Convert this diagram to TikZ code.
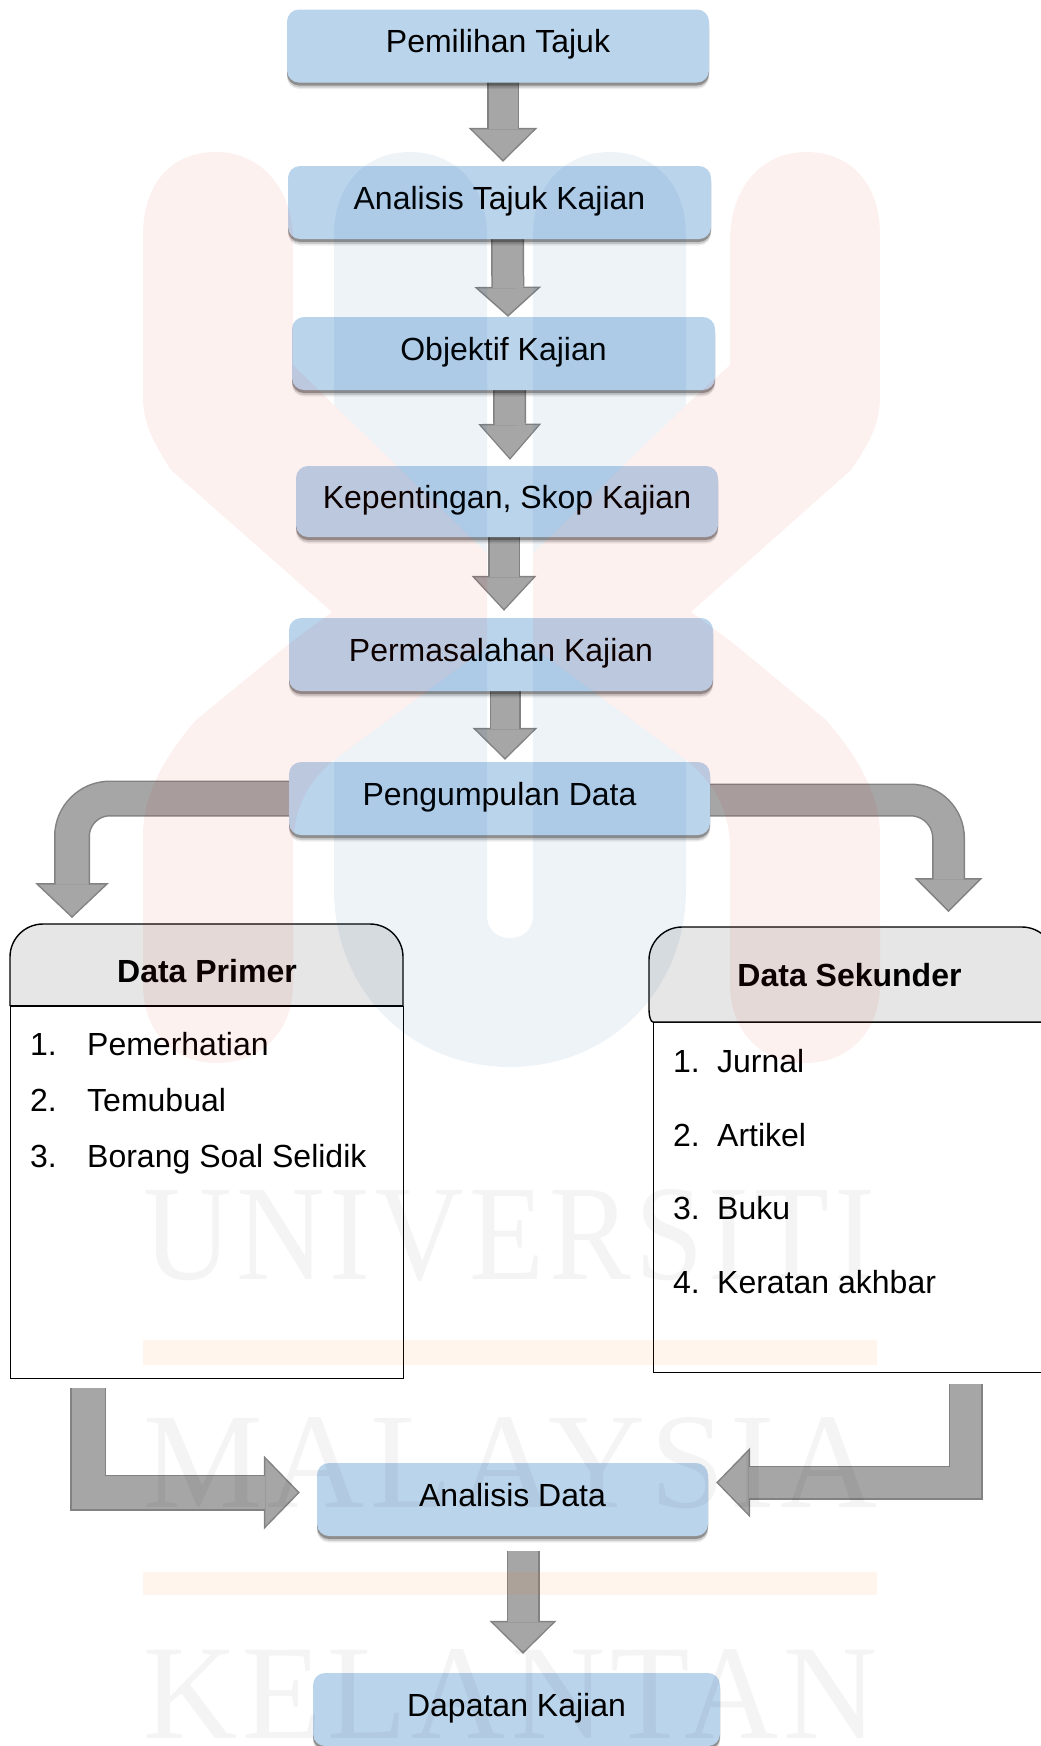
\documentclass[tikz,border=0pt]{standalone}
\usepackage{fontspec}
\setmainfont{Liberation Sans}
\newfontfamily\wmfont[LetterSpace=4]{Liberation Serif}
\usetikzlibrary{arrows.meta,calc,shadows,backgrounds}
\definecolor{boxblue}{HTML}{BAD4EC}
\definecolor{arrowfill}{HTML}{A6A6A6}
\definecolor{arrowedge}{HTML}{828282}
\definecolor{headgrey}{HTML}{E6E6E6}
\definecolor{wmred}{rgb}{0.89,0.04,0}
\definecolor{wmblue}{rgb}{0,0.30,0.60}
\definecolor{wmorange}{rgb}{1,0.47,0}
\tikzset{
  x=1pt,y=-1pt,
  flowbox/.style={rectangle,rounded corners=12pt,fill=boxblue,
    minimum width=#1,minimum height=73pt,inner sep=0pt,
    text height=24pt,text depth=11pt,font=\fontsize{32}{36}\selectfont,
    general shadow={shadow xshift=0pt,shadow yshift=-6.5pt,opacity=.07,fill=black},
    general shadow={shadow xshift=0pt,shadow yshift=-5pt,opacity=.14,fill=black},
    general shadow={shadow xshift=0pt,shadow yshift=-3pt,opacity=.30,fill=black}},
  blockarrow/.code n args={3}{%
    \pgfmathsetmacro\arrowinnerW{#1-3}%
    \pgfmathsetmacro\arrowinnerL{#2-3.6}%
    \pgfmathsetmacro\arrowinnerH{#3*(#2-3.6)/#2}%
    \tikzset{draw=arrowfill,line width=\arrowinnerW pt,line join=miter,shorten >=2.1pt,
      preaction={draw=arrowedge,line width=#1,shorten >=0pt,
        -{Triangle[length=#2,width=#3,line width=0pt,round=false]}},
      -{Triangle[length=\arrowinnerL pt,width=\arrowinnerH pt,line width=0pt,round=false]}}},
  panelbody/.style={rectangle,draw=black,line width=1.4pt,inner sep=0pt,anchor=north west},
  panelhead/.style={draw=black,line width=1.4pt,fill=headgrey},
  paneltitle/.style={anchor=base,inner sep=0pt,font=\fontsize{32}{36}\selectfont\bfseries},
  listitem/.style={anchor=base west,inner sep=0pt,font=\fontsize{32}{36}\selectfont},
  wmword/.style={anchor=south west,inner sep=0pt,text=black,text opacity=.045}
}
\newcommand{\listline}[3]{\makebox[#1][l]{#2}#3}
\begin{document}
\begin{tikzpicture}
\useasboundingbox (0,0) rectangle (1041,1746);
% flow boxes
\node[flowbox=422pt] (n1) at (498,46) {Pemilihan Tajuk};
\node[flowbox=423pt] (n2) at (499.5,202.5) {Analisis Tajuk Kajian};
\node[flowbox=423pt] (n3) at (503.5,353.5) {Objektif Kajian};
\node[flowbox=422pt,minimum height=71pt] (n4) at (507,501.5) {Kepentingan, Skop Kajian};
\node[flowbox=424pt] (n5) at (501,654.5) {Permasalahan Kajian};
\node[flowbox=421pt] (n6) at (499.5,798.5) {Pengumpulan Data};
\node[flowbox=391pt] (n7) at (512.5,1499.5) {Analisis Data};
\node[flowbox=407pt] (n8) at (516.5,1709.5) {Dapatan Kajian};
% panels
\node[panelbody,minimum width=393pt,minimum height=372pt] (primerbody) at (10,1006) {};
\draw[panelhead,rounded corners=33pt] (10,1006) -- (10,924) -- (403,924) -- (403,1006);
\draw[panelhead] (10,1006) -- (403,1006);
\node[paneltitle] (primerhead) at (207,982) {Data Primer};
\node[panelbody,minimum width=402pt,minimum height=350pt] (sekunderbody) at (653,1022) {};
\draw[panelhead] (1055,1022) -- (1055,960) .. controls (1055,942) and (1040,927) .. (1022,927)
  -- (682,927) .. controls (664,927) and (649,942) .. (649,960) -- (649,1010)
  .. controls (649,1017) and (651,1022) .. (653,1022) -- cycle;
\node[paneltitle] (sekunderhead) at (849.5,986) {Data Sekunder};
% list texts
\node[listitem] (p1) at (30,1055) {\listline{57pt}{1.}{Pemerhatian}};
\node[listitem] (p2) at (30,1111) {\listline{57pt}{2.}{Temubual}};
\node[listitem] (p3) at (30,1167) {\listline{57pt}{3.}{Borang Soal Selidik}};
\node[listitem] (s1) at (673,1072) {\listline{44pt}{1.}{Jurnal}};
\node[listitem] (s2) at (673,1146) {\listline{44pt}{2.}{Artikel}};
\node[listitem] (s3) at (673,1219) {\listline{44pt}{3.}{Buku}};
\node[listitem] (s4) at (673,1293) {\listline{44pt}{4.}{Keratan akhbar}};
% block arrows, behind the boxes
\begin{scope}[on background layer]
\draw[blockarrow={32pt}{34pt}{69pt}] ($(n1.south)+(5,-2)$) -- ($(n2.north)+(3.5,-4)$);
\draw[blockarrow={33pt}{30pt}{67pt}] ($(n2.south)+(8,-2)$) -- ($(n3.north)+(4.5,0)$);
\draw[blockarrow={33pt}{36pt}{63pt}] ($(n3.south)+(6,-2)$) -- ($(n4.north)+(3,-6)$);
\draw[blockarrow={32pt}{35pt}{65pt}] ($(n4.south)+(-3,-2)$) -- ($(n5.north)+(3,-7)$);
\draw[blockarrow={31pt}{32pt}{65pt}] ($(n5.south)+(4,-2)$) -- ($(n6.north)+(5.5,-2)$);
\draw[blockarrow={36pt}{35pt}{74pt},rounded corners=38pt] (n6.west) -| ($(primerbody.north west)+(62,-88)$);
\draw[blockarrow={33pt}{34pt}{68pt},rounded corners=38pt] ($(n6.east)+(0,1.5)$) -| ($(sekunderbody.north west)+(295.5,-110)$);
\draw[blockarrow={36pt}{36pt}{74pt}] ($(primerbody.south west)+(78,9)$) |- ($(n7.west)+(-17,-7)$);
\draw[blockarrow={34pt}{34pt}{70pt}] ($(sekunderbody.south west)+(312.5,11)$) |- ($(n7.east)+(8,-17)$);
\draw[blockarrow={33pt}{33pt}{67pt}] ($(n7.south)+(10.5,15)$) -- ($(n8.north)+(6.5,-19)$);
\end{scope}
% watermark, a faint layer over the whole page
\fill[wmblue,opacity=.067] (334,235) .. controls (334,185) and (365,152) .. (410,152)
  .. controls (455,152) and (487,185) .. (487,235) -- (487,553) -- (334,405) -- cycle;
\fill[wmblue,opacity=.067] (533,235) .. controls (533,185) and (565,152) .. (610,152)
  .. controls (655,152) and (686,185) .. (686,235) -- (686,405) -- (533,553) -- cycle;
\fill[wmblue,opacity=.067] (487,647) -- (487,915)
  .. controls (487,930) and (497,938) .. (510,938) .. controls (523,938) and (533,930) .. (533,915)
  -- (533,647) -- (686,760) -- (686,890)
  .. controls (686,990) and (610,1067) .. (510,1067) .. controls (410,1067) and (334,990) .. (334,890)
  -- (334,760) -- cycle;
\fill[wmred,opacity=.06] (143,235) .. controls (143,185) and (170,152) .. (216,152)
  .. controls (262,152) and (293,190) .. (293,240) -- (293,365) -- (334,405)
  -- (487,553) -- (487,647) -- (334,760) .. controls (310,780) and (293,805) .. (293,850) -- (293,985)
  .. controls (293,1030) and (262,1063) .. (217,1063) .. controls (172,1063) and (143,1030) .. (143,985)
  -- (143,835) .. controls (143,790) and (170,750) .. (196,720) -- (290,643) -- (332,612)
  -- (171,470) .. controls (155,445) and (143,425) .. (143,397) -- cycle;
\fill[wmred,opacity=.06] (880,235) .. controls (880,185) and (852,152) .. (806,152)
  .. controls (760,152) and (730,190) .. (730,240) -- (730,365) -- (686,405)
  -- (533,553) -- (533,647) -- (686,760) .. controls (710,780) and (730,805) .. (730,850) -- (730,985)
  .. controls (730,1030) and (760,1063) .. (805,1063) .. controls (850,1063) and (880,1030) .. (880,985)
  -- (880,835) .. controls (880,790) and (852,750) .. (826,720) -- (733,643) -- (691,612)
  -- (851,470) .. controls (868,445) and (880,425) .. (880,397) -- cycle;
\fill[wmorange,opacity=.075] (143,1340) rectangle (877,1365);
\fill[wmorange,opacity=.075] (143,1572) rectangle (877,1595);
\node[wmword] (w1) at (143,1282) {\resizebox{732pt}{90pt}{\wmfont UNIVERSITI}};
\node[wmword] (w2) at (143,1509) {\resizebox{734pt}{90pt}{\wmfont MALAYSIA}};
\node[wmword] (w3) at (143,1739) {\resizebox{734pt}{89pt}{\wmfont KELANTAN}};
\end{tikzpicture}
\end{document}
